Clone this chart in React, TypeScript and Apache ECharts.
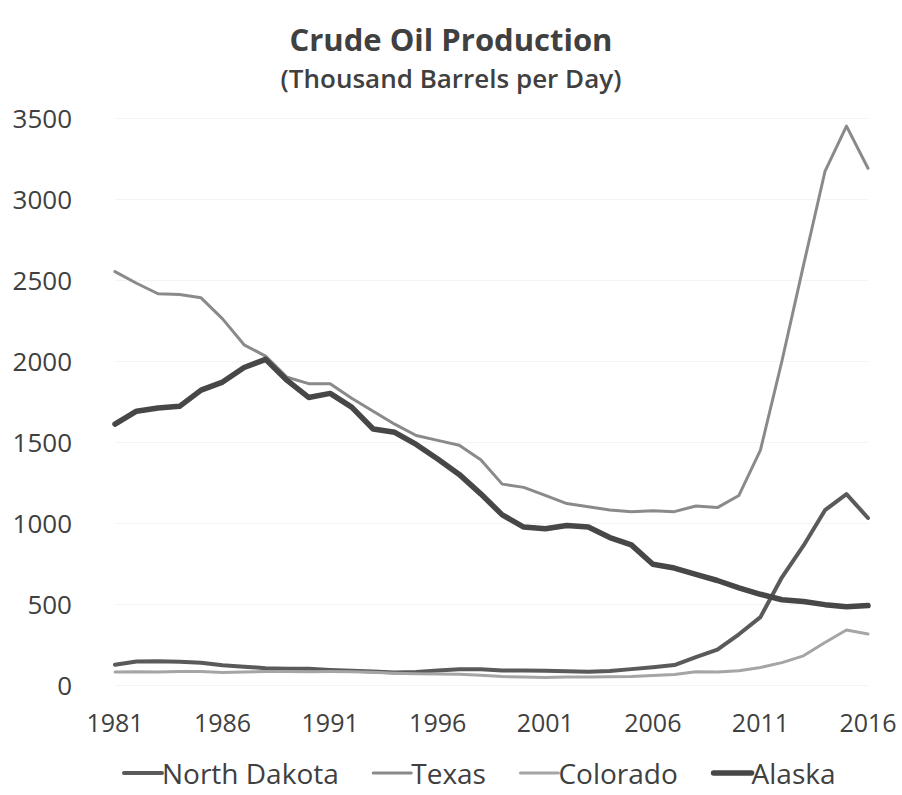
import React, { useEffect, useRef } from "react";
import * as echarts from "echarts";

const years = [
  "1981","1982","1983","1984","1985","1986","1987","1988","1989","1990",
  "1991","1992","1993","1994","1995","1996","1997","1998","1999","2000",
  "2001","2002","2003","2004","2005","2006","2007","2008","2009","2010",
  "2011","2012","2013","2014","2015","2016",
];

const northDakota = [
  125, 145, 147, 143, 138, 122, 113, 104, 101, 100,
  93, 88, 84, 77, 81, 89, 97, 97, 89, 90,
  88, 85, 82, 86, 98, 110, 123, 172, 218, 313,
  419, 665, 860, 1079, 1178, 1031,
];

const texas = [
  2552, 2480, 2415, 2410, 2390, 2260, 2100, 2030, 1900, 1860,
  1860, 1770, 1690, 1610, 1540, 1510, 1480, 1390, 1240, 1220,
  1170, 1120, 1100, 1080, 1070, 1075, 1070, 1105, 1095, 1170,
  1450, 2000, 2590, 3170, 3450, 3190,
];

const colorado = [
  80, 82, 80, 83, 83, 77, 80, 83, 83, 82,
  83, 82, 78, 73, 70, 68, 66, 60, 52, 50,
  46, 49, 50, 51, 53, 59, 65, 82, 80, 88,
  108, 138, 180, 262, 340, 315,
];

const alaska = [
  1610, 1690, 1710, 1720, 1820, 1870, 1960, 2010, 1880, 1775,
  1800, 1715, 1580, 1560, 1485, 1395, 1300, 1180, 1050, 975,
  965, 985, 975, 910, 865, 745, 722, 683, 645, 600,
  560, 526, 515, 496, 483, 490,
];

const seriesNames = ["North Dakota", "Texas", "Colorado", "Alaska"];
const seriesColors = ["#5a5a5a", "#8a8a8a", "#a5a5a5", "#474747"];
const seriesWidths = [4, 3, 3, 5.5];

const FONT = "'Open Sans', 'Noto Sans', sans-serif";
const TEXT = "#404040";

export default function App() {
  const ref = useRef<HTMLDivElement>(null);

  useEffect(() => {
    if (!ref.current) return;
    const chart = echarts.init(ref.current, null, { renderer: "svg" });
    const allData = [northDakota, texas, colorado, alaska];
    chart.setOption({
      animation: false,
      backgroundColor: "#ffffff",
      title: [
        {
          text: "Crude Oil Production",
          left: "center",
          top: 21,
          padding: 0,
          textStyle: {
            fontFamily: FONT,
            fontSize: 31,
            lineHeight: 36,
            fontWeight: "bold",
            color: TEXT,
          },
        },
        {
          text: "(Thousand Barrels per Day)",
          left: "center",
          top: 63,
          padding: 0,
          textStyle: {
            fontFamily: FONT,
            fontSize: 26,
            lineHeight: 30,
            fontWeight: 600,
            color: TEXT,
          },
        },
      ],
      legend: {
        top: 756,
        left: 122,
        padding: 0,
        itemWidth: 38,
        itemHeight: 4,
        itemGap: 33,
        itemStyle: { opacity: 0 },
        textStyle: {
          fontFamily: FONT,
          fontSize: 28,
          lineHeight: 34,
          color: TEXT,
          padding: [0, 0, 0, -5],
        },
        data: seriesNames.map((name, i) => ({
          name,
          lineStyle: { color: seriesColors[i], width: seriesWidths[i] },
        })),
      },
      grid: {
        left: 115,
        right: 34,
        top: 118,
        bottom: 110,
        containLabel: false,
      },
      xAxis: {
        type: "category",
        data: years,
        boundaryGap: false,
        axisLine: { show: false },
        axisTick: { show: false },
        axisLabel: {
          interval: 4,
          fontFamily: FONT,
          fontSize: 25,
          color: TEXT,
          margin: 24,
        },
        splitLine: { show: false },
      },
      yAxis: {
        type: "value",
        min: 0,
        max: 3500,
        interval: 500,
        axisLine: { show: false },
        axisTick: { show: false },
        axisLabel: {
          fontFamily: FONT,
          fontSize: 26,
          color: TEXT,
          margin: 43,
          formatter: (v: number) => String(v),
        },
        splitLine: { show: true, lineStyle: { color: "#f4f4f4", width: 1 } },
      },
      series: seriesNames.map((name, i) => ({
        name,
        type: "line",
        data: allData[i],
        symbol: "none",
        smooth: false,
        lineStyle: { color: seriesColors[i], width: seriesWidths[i], cap: "round", join: "round" },
        itemStyle: { color: seriesColors[i] },
      })),
    });
    return () => chart.dispose();
  }, []);

  return (
    <div
      ref={ref}
      style={{ position: "absolute", left: 0, top: 0, width: 902, height: 795, background: "#fff" }}
    />
  );
}
